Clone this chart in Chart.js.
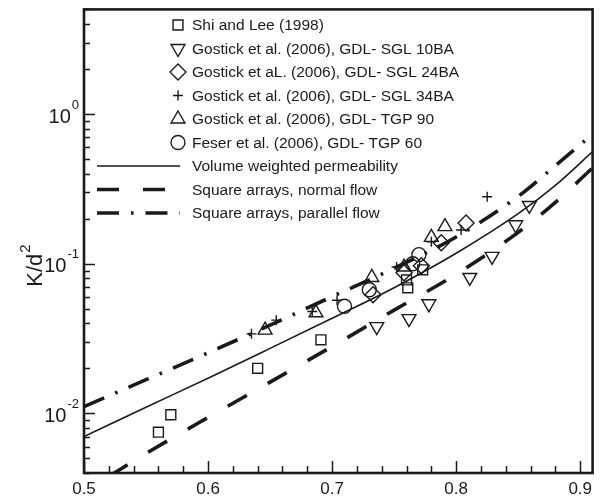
<!DOCTYPE html>
<html>
<head>
<meta charset="utf-8">
<script src="https://cdn.jsdelivr.net/npm/chart.js@4.4.1/dist/chart.umd.min.js"></script>
<style>
  html, body { margin: 0; padding: 0; background: #fff; }
  #wrap { width: 602px; height: 500px; position: relative; }
</style>
</head>
<body>
<div id="wrap"><canvas id="permChart"></canvas></div>
<script>
// measured points [porosity, K/d^2]
const shiLee = [[0.56, 0.0075], [0.57, 0.0098], [0.64, 0.020], [0.691, 0.031], [0.761, 0.069], [0.76, 0.078], [0.773, 0.091]];
const sgl10 = [[0.736, 0.038], [0.762, 0.043], [0.778, 0.054], [0.811, 0.081], [0.829, 0.112], [0.848, 0.182], [0.859, 0.245]];
const sgl24 = [[0.733, 0.062], [0.758, 0.087], [0.772, 0.097], [0.788, 0.138], [0.808, 0.187]];
const sgl34 = [[0.635, 0.034], [0.655, 0.042], [0.684, 0.048], [0.704, 0.057], [0.752, 0.095], [0.78, 0.14], [0.804, 0.168], [0.825, 0.28]];
const tgp90 = [[0.646, 0.036], [0.687, 0.047], [0.732, 0.081], [0.758, 0.095], [0.78, 0.15], [0.791, 0.177]];
const tgp60 = [[0.71, 0.052], [0.73, 0.067], [0.765, 0.100], [0.77, 0.115]];

// model curves
const modelX = [0.5, 0.55, 0.6, 0.65, 0.7, 0.75, 0.8, 0.85, 0.88, 0.91];
const volumeWeighted = [0.0070, 0.0110, 0.0172, 0.0272, 0.0432, 0.0692, 0.1175, 0.216, 0.334, 0.561];
const parallelFlow = [0.0111, 0.0168, 0.0254, 0.0389, 0.0603, 0.0933, 0.151, 0.282, 0.452, 0.733];
const normalX = [0.52, 0.55, 0.6, 0.65, 0.7, 0.75, 0.8, 0.85, 0.88, 0.91];
const normalFlow = [0.0038, 0.0054, 0.0094, 0.0162, 0.028, 0.049, 0.085, 0.162, 0.257, 0.437];

const xTicks = [0.5, 0.6, 0.7, 0.8, 0.9];
const yDecades = [-2, -1, 0];

const INK = '#1a1a1a';
const FONT = '"Liberation Sans", Arial, sans-serif';

function pts(arr) { return arr.map(p => ({ x: p[0], y: p[1] })); }
function curve(xs, ys) { return xs.map((x, i) => ({ x: x, y: ys[i] })); }

function markerSet(label, data, style, radius, rotation) {
    return {
        label: label,
        data: pts(data),
        showLine: false,
        pointStyle: style,
        pointRadius: radius,
        pointRotation: rotation || 0,
        pointBorderWidth: 1.4,
        pointBorderColor: INK,
        pointBackgroundColor: 'rgba(0,0,0,0)'
    };
}

function lineSet(label, xs, ys, width, dash) {
    return {
        label: label,
        data: curve(xs, ys),
        showLine: true,
        pointRadius: 0,
        borderColor: INK,
        borderWidth: width,
        borderDash: dash,
        cubicInterpolationMode: 'monotone',
        fill: false
    };
}

// frame, inward ticks, y labels, y title, legend
const decorPlugin = {
    id: 'decor',
    afterDraw(chart) {
        const ctx = chart.ctx;
        const a = chart.chartArea;
        const xs = chart.scales.x;
        const ys = chart.scales.y;
        ctx.save();
        ctx.strokeStyle = INK;
        ctx.fillStyle = INK;

        // ticks on x
        ctx.lineWidth = 1.5;
        for (let v = 0.5; v <= 0.905; v += 0.02) {
            const px = Math.round(xs.getPixelForValue(v)) + 0.5;
            const major = Math.abs(v * 10 - Math.round(v * 10)) < 1e-6;
            ctx.beginPath();
            ctx.moveTo(px, a.bottom);
            ctx.lineTo(px, a.bottom - (major ? 12 : 7));
            ctx.stroke();
        }
        // ticks on y
        for (let e = -3; e <= 0; e++) {
            for (let k = 1; k <= 9; k++) {
                const v = k * Math.pow(10, e);
                if (v < ys.min || v > ys.max) continue;
                const py = Math.round(ys.getPixelForValue(v)) + 0.5;
                ctx.beginPath();
                ctx.moveTo(a.left, py);
                ctx.lineTo(a.left + (k === 1 ? 11 : 6), py);
                ctx.stroke();
            }
        }

        // frame
        ctx.lineWidth = 2.6;
        ctx.strokeRect(a.left, a.top, a.right - a.left, a.bottom - a.top);

        // y tick labels 10^n
        ctx.textBaseline = 'middle';
        yDecades.forEach(e => {
            const py = ys.getPixelForValue(Math.pow(10, e));
            const exp = String(e);
            ctx.font = '13px ' + FONT;
            const ew = ctx.measureText(exp).width;
            ctx.textAlign = 'right';
            ctx.fillText(exp, 79, py - 9);
            ctx.font = '20px ' + FONT;
            ctx.fillText('10', 79 - ew - 1, py + 3);
        });

        // y title
        ctx.save();
        ctx.translate(36, 266);
        ctx.rotate(-Math.PI / 2);
        ctx.textAlign = 'left';
        ctx.font = '22px ' + FONT;
        const tw = ctx.measureText('K/d').width;
        ctx.font = '15px ' + FONT;
        const sw = ctx.measureText('2').width;
        const start = -(tw + sw) / 2;
        ctx.font = '22px ' + FONT;
        ctx.fillText('K/d', start, 0);
        ctx.font = '15px ' + FONT;
        ctx.fillText('2', start + tw + 1, -10);
        ctx.restore();

        // legend
        const rowY0 = 25, rowGap = 23.5, markX = 178, textX = 192;
        ctx.font = '15.5px ' + FONT;
        ctx.textAlign = 'left';
        ctx.textBaseline = 'middle';
        chart.data.datasets.forEach((ds, i) => {
            const y = rowY0 + i * rowGap;
            if (ds.showLine) {
                ctx.save();
                ctx.lineWidth = ds.borderWidth;
                ctx.setLineDash(ds.borderDash || []);
                ctx.beginPath();
                ctx.moveTo(97, y);
                ctx.lineTo(180, y);
                ctx.stroke();
                ctx.restore();
            } else {
                ctx.save();
                ctx.fillStyle = 'rgba(0,0,0,0)';
                ctx.lineWidth = ds.pointBorderWidth;
                Chart.helpers.drawPoint(ctx, {
                    pointStyle: ds.pointStyle,
                    radius: ds.pointRadius,
                    rotation: ds.pointRotation,
                    borderWidth: ds.pointBorderWidth
                }, markX, y);
                ctx.restore();
            }
            ctx.fillStyle = INK;
            ctx.fillText(ds.label, textX, y + 1);
        });

        ctx.restore();
    }
};

new Chart(document.getElementById('permChart'), {
    type: 'scatter',
    data: {
        datasets: [
            markerSet('Shi and Lee (1998)', shiLee, 'rect', 7),
            markerSet('Gostick et al. (2006), GDL- SGL 10BA', sgl10, 'triangle', 8, 180),
            markerSet('Gostick et aL. (2006), GDL- SGL 24BA', sgl24, 'rectRot', 8),
            markerSet('Gostick et al. (2006), GDL- SGL 34BA', sgl34, 'cross', 5),
            markerSet('Gostick et al. (2006), GDL- TGP 90', tgp90, 'triangle', 8),
            markerSet('Feser et al. (2006), GDL- TGP 60', tgp60, 'circle', 7),
            lineSet('Volume weighted permeability', modelX, volumeWeighted, 1.6, []),
            lineSet('Square arrays, normal flow', normalX, normalFlow, 3.6, [22, 24]),
            lineSet('Square arrays, parallel flow', modelX, parallelFlow, 3.6, [22, 12, 2.5, 12])
        ]
    },
    options: {
        responsive: true,
        maintainAspectRatio: false,
        animation: false,
        layout: { padding: { left: 84, right: 9, top: 9, bottom: 0 } },
        plugins: {
            legend: { display: false },
            tooltip: { enabled: false }
        },
        scales: {
            x: {
                type: 'linear',
                min: 0.5,
                max: 0.91,
                grid: { display: false, drawTicks: false },
                border: { display: false },
                afterBuildTicks: s => { s.ticks = xTicks.map(v => ({ value: v })); },
                afterFit: s => { s.height = 27; },
                ticks: {
                    autoSkip: false,
                    maxRotation: 0,
                    padding: 6,
                    color: INK,
                    font: { family: FONT, size: 17 },
                    callback: v => Number(v).toFixed(1)
                }
            },
            y: {
                type: 'logarithmic',
                display: false,
                min: 0.004,
                max: 5
            }
        }
    },
    plugins: [decorPlugin]
});
</script>
</body>
</html>
